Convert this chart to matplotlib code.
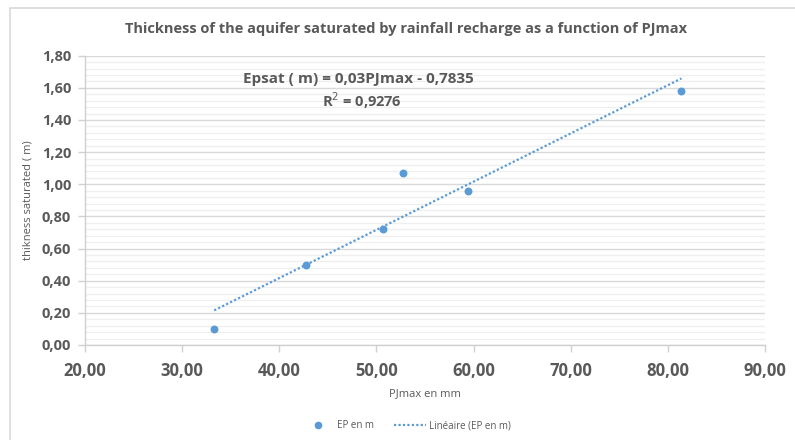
import matplotlib
matplotlib.use("Agg")
import matplotlib.pyplot as plt
from matplotlib import font_manager
from matplotlib.ticker import MultipleLocator, FuncFormatter
from matplotlib.lines import Line2D
from matplotlib.patches import Rectangle
import numpy as np

# Data
pjmax = [33.3, 42.7, 50.7, 52.7, 59.45, 81.4]
ep = [0.10, 0.50, 0.72, 1.07, 0.96, 1.58]
slope = 0.03
intercept = -0.7835
r2 = 0.9276

title = "Thickness of the aquifer saturated by rainfall recharge as a function of PJmax"
xlabel = "PJmax en mm"
ylabel = "thikness saturated ( m)"
series_label = "EP en m"
trend_label = "Linéaire (EP en m)"

available = {f.name for f in font_manager.fontManager.ttflist}
family = "Liberation Sans Narrow" if "Liberation Sans Narrow" in available else "Open Sans"
plt.rcParams["font.family"] = [family, "DejaVu Sans"]

grey = "#595959"
blue = "#5b9bd5"

fig = plt.figure(figsize=(7.95, 4.4), dpi=100)
ax = fig.add_axes([85 / 795, 1 - 345 / 440, 680 / 795, (345 - 55.7) / 440])

# outer frame of the chart
fig.patches.append(Rectangle((10 / 795, -0.05), 1.1, 1 - 8 / 440 + 0.05,
                             transform=fig.transFigure, fill=False,
                             edgecolor="#d9d9d9", linewidth=1.2))

ax.set_xlim(20, 90)
ax.set_ylim(0, 1.8)
ax.xaxis.set_major_locator(MultipleLocator(10))
ax.yaxis.set_major_locator(MultipleLocator(0.2))
ax.yaxis.set_minor_locator(MultipleLocator(0.04))
fmt = FuncFormatter(lambda v, p: f"{v:.2f}".replace(".", ","))
ax.xaxis.set_major_formatter(fmt)
ax.yaxis.set_major_formatter(fmt)

ax.grid(axis="y", which="major", color="#d9d9d9", linewidth=1.0)
ax.grid(axis="y", which="minor", color="#efefef", linewidth=0.9)
ax.set_axisbelow(True)

for s in ["top", "right"]:
    ax.spines[s].set_visible(False)
for s in ["left", "bottom"]:
    ax.spines[s].set_color("#d0d0d0")
    ax.spines[s].set_linewidth(1.0)

ax.tick_params(axis="both", which="major", length=5, width=1.0, color="#d0d0d0",
               labelcolor=grey, direction="out")
ax.tick_params(axis="y", which="minor", length=0)
ax.tick_params(axis="x", labelsize=12, pad=7)
ax.tick_params(axis="y", labelsize=10.5, pad=5)
for lab in ax.get_xticklabels() + ax.get_yticklabels():
    lab.set_fontweight("bold")

ax.scatter(pjmax, ep, s=22, color=blue, zorder=3)
xs = np.array([min(pjmax), max(pjmax)])
ax.plot(xs, slope * xs + intercept, color=blue, linestyle=(0, (1, 1)),
        linewidth=1.6, zorder=2)

fig.text(0.511, 1 - 28.5 / 440, title, ha="center", va="center",
         fontsize=10.5, fontweight="bold", color=grey)
ax.set_xlabel(xlabel, fontsize=8, color=grey, labelpad=6)
ax.set_ylabel(ylabel, fontsize=8, color=grey, labelpad=6)

ax.text(358 / 795, 1 - 79 / 440, "Epsat ( m) = 0,03PJmax - 0,7835",
        transform=fig.transFigure, ha="center", va="center",
        fontsize=11, fontweight="bold", color=grey)
ax.text(362 / 795, 1 - 101 / 440, "R$^{2}$ = 0,9276",
        transform=fig.transFigure, ha="center", va="center",
        fontsize=10.5, fontweight="bold", color=grey)

handles = [Line2D([], [], marker="o", linestyle="none", color=blue, markersize=4.5),
           Line2D([], [], color=blue, linestyle=(0, (1, 1)), linewidth=1.6)]
fig.legend(handles, [series_label, trend_label], loc="center",
           bbox_to_anchor=(0.511, 1 - 425.5 / 440), ncol=2, frameon=False,
           fontsize=7, labelcolor=grey, handlelength=3.3, columnspacing=2.0,
           handletextpad=0.3)

fig.savefig("out.png", dpi=100, facecolor="white")
